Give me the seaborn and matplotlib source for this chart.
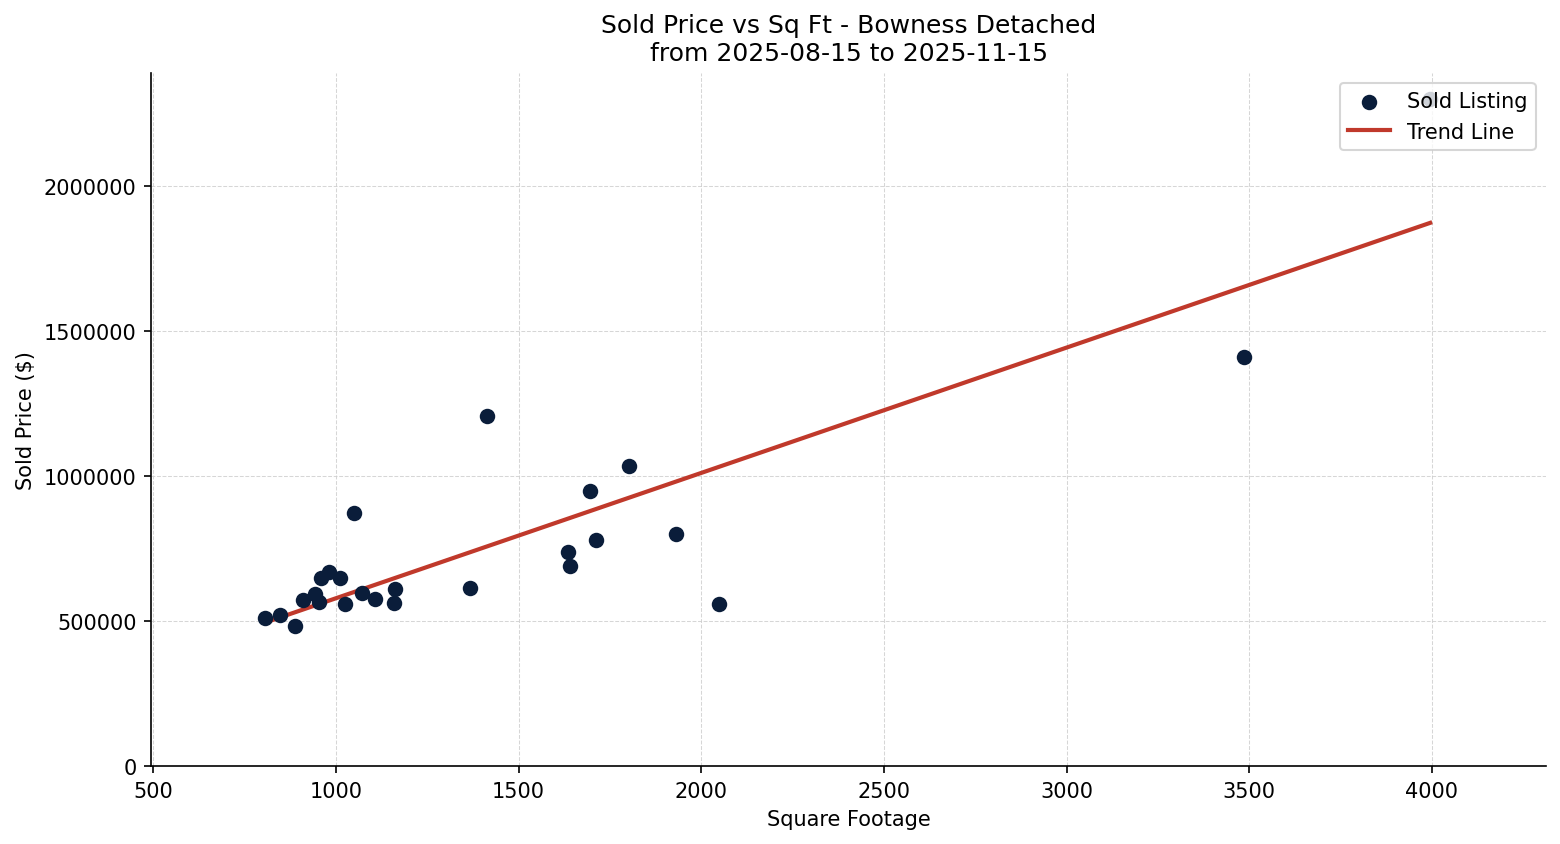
import numpy as np
import pandas as pd
import matplotlib
matplotlib.use("Agg")
import matplotlib.pyplot as plt
import seaborn as sns

sqft = [806, 848, 889, 911, 943, 954, 960, 980, 1012, 1026, 1051, 1071, 1108, 1160, 1162,
        1368, 1414, 1636, 1641, 1696, 1712, 1803, 1931, 2049, 3486, 3995]
price = [512000, 520000, 484000, 575000, 593000, 566000, 648000, 670000, 648000, 558000,
         875000, 599000, 576000, 564000, 611000,
         615000, 1207000, 738000, 690000, 948000, 779000, 1034000, 800000, 559000, 1410000, 2300000]

title = "Sold Price vs Sq Ft - Bowness Detached\nfrom 2025-08-15 to 2025-11-15"

df = pd.DataFrame({"sqft": sqft, "price": price})
coef = np.polyfit(df["sqft"], df["price"], 1)
xs = np.array([df["sqft"].min(), df["sqft"].max()])
trend = pd.DataFrame({"sqft": xs, "price": np.polyval(coef, xs)})

plt.rcParams["font.family"] = ["DejaVu Sans"]
fig, ax = plt.subplots(figsize=(10.4, 5.633), dpi=150)
sns.scatterplot(data=df, x="sqft", y="price", ax=ax, s=55, color="#0a1d3a",
                linewidth=0, label="Sold Listing", zorder=3)
sns.lineplot(data=trend, x="sqft", y="price", ax=ax, color="#c0392b", linewidth=2,
             label="Trend Line", zorder=2)
ax.set_xlim(495, 4312)
ax.set_ylim(0, max(price) * 1.04)
ax.grid(True, linestyle="--", color="#cccccc", linewidth=0.5, alpha=0.8)
ax.set_axisbelow(True)
sns.despine(ax=ax)
ax.ticklabel_format(style="plain", axis="y")
ax.set_title(title, fontsize=12)
ax.set_xlabel("Square Footage", fontsize=10)
ax.set_ylabel("Sold Price ($)", fontsize=10)
ax.tick_params(axis="both", labelsize=10)
ax.legend(loc="upper right", fontsize=10, frameon=True)
fig.subplots_adjust(left=0.097, right=0.991, top=0.913, bottom=0.092)
fig.savefig("out.png", dpi=150)
